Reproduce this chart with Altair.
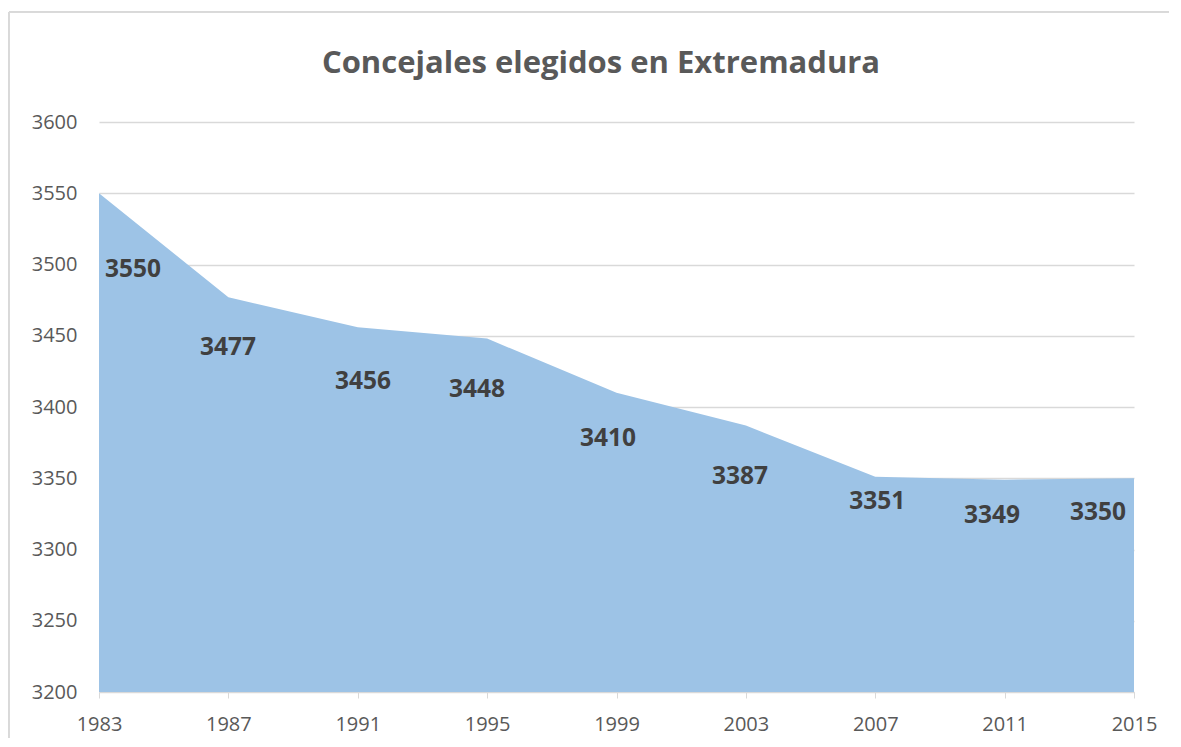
import altair as alt
import pandas as pd

years = [1983, 1987, 1991, 1995, 1999, 2003, 2007, 2011, 2015]
concejales = [3550, 3477, 3456, 3448, 3410, 3387, 3351, 3349, 3350]
# where the data labels sit in data units
label_year = [1984.05, 1986.99, 1991.16, 1994.69, 1998.74, 2002.82, 2007.06, 2010.61, 2013.89]
label_value = [3496.1, 3441.4, 3417.5, 3411.9, 3377.5, 3350.9, 3333.3, 3323.5, 3325.6]
x_ticks = [1983, 1987, 1991, 1995, 1999, 2003, 2007, 2011, 2015]
y_ticks = [3200, 3250, 3300, 3350, 3400, 3450, 3500, 3550, 3600]
y_base = 3200
title_text = "Concejales elegidos en Extremadura"

df = pd.DataFrame({"year": years, "value": concejales})
lab = pd.DataFrame({"ly": label_year, "lv": label_value, "txt": [str(v) for v in concejales]})

FONT = "Open Sans"
GRID = "#d9d9d9"
TXT = "#595959"

x_scale = alt.Scale(domain=[1983, 2015], nice=False, zero=False)
y_scale = alt.Scale(domain=[3200, 3600], nice=False, zero=False)

area = alt.Chart(df).mark_area(color="#9dc3e6", opacity=1).encode(
    x=alt.X("year:Q", scale=x_scale, title=None,
            axis=alt.Axis(values=x_ticks, format="d", grid=False, domain=True,
                          domainColor=GRID, domainWidth=1, ticks=True, tickColor=GRID,
                          tickSize=6, labelPadding=16, labelFont=FONT, labelFontSize=20,
                          labelColor=TXT, labelFlush=False)),
    y=alt.Y("value:Q", scale=y_scale, title=None,
            axis=alt.Axis(values=y_ticks, format="d", grid=True, gridColor=GRID, gridWidth=1.3,
                          domain=False, ticks=False, labelPadding=22, labelFont=FONT,
                          labelFontSize=20, labelColor=TXT)),
    y2=alt.Y2(datum=y_base),
)

labels = alt.Chart(lab).mark_text(font=FONT, fontSize=24.5, fontWeight="bold",
                                  color="#404040", align="center", baseline="middle").encode(
    x=alt.X("ly:Q", scale=x_scale),
    y=alt.Y("lv:Q", scale=y_scale),
    text="txt:N",
)

title = alt.Chart(pd.DataFrame({"t": [title_text]})).mark_text(
    font=FONT, fontSize=31, fontWeight="bold", color=TXT, align="center",
    baseline="alphabetic").encode(
    text="t:N", x=alt.value(502), y=alt.value(-49))

frame_top = alt.Chart(df).mark_rule(color=GRID, strokeWidth=1).encode(
    x=alt.value(-90), x2=alt.value(1200), y=alt.value(-110))
frame_left = alt.Chart(df).mark_rule(color=GRID, strokeWidth=1).encode(
    x=alt.value(-90), y=alt.value(-110), y2=alt.value(800))

chart = alt.layer(frame_top, frame_left, area, labels, title).properties(
    width=1035, height=570,
    autosize=alt.AutoSizeParams(type="none"),
    padding={"left": 91, "top": 114, "right": 35, "bottom": 46},
).configure_view(stroke=None)

chart.save("out.html", embed_options={"renderer": "svg", "actions": False})
